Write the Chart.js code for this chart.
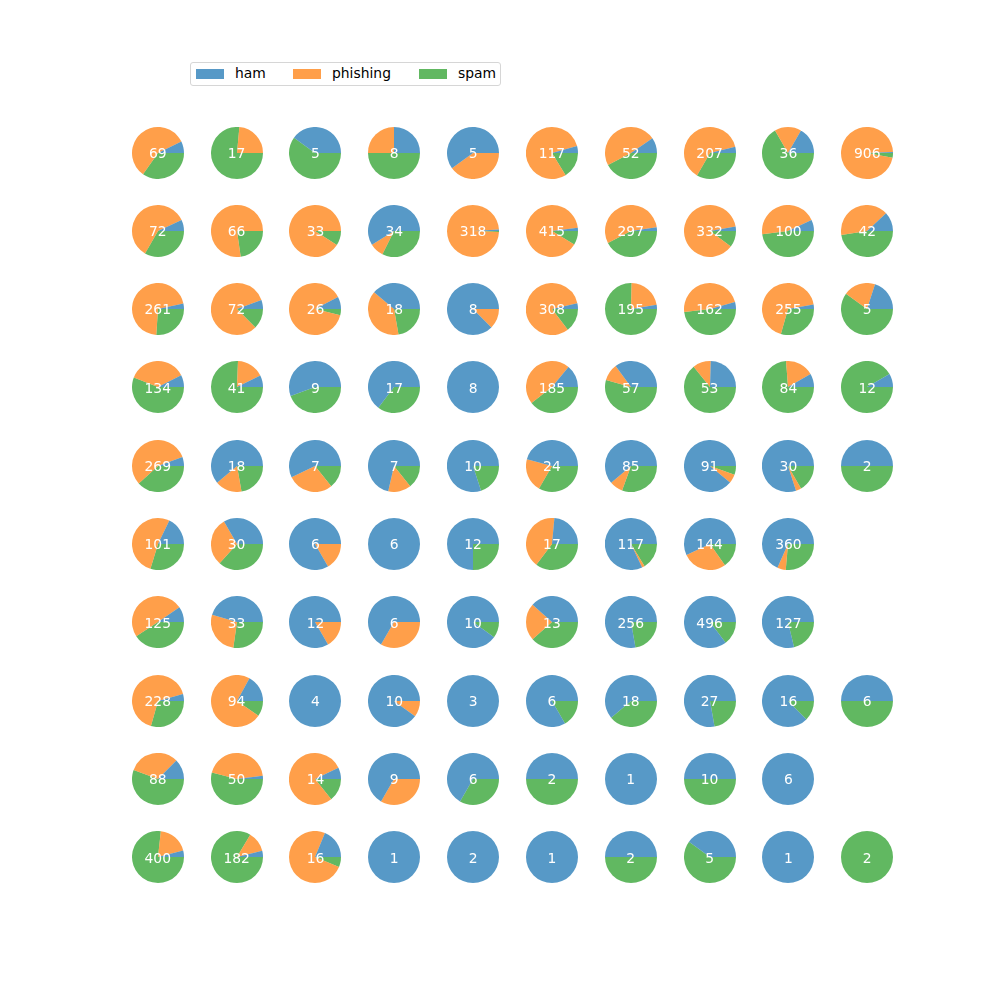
<!DOCTYPE html>
<html><head><meta charset="utf-8">
<script src="https://cdn.jsdelivr.net/npm/chart.js@4.4.1/dist/chart.umd.min.js"></script>
<style>
html,body{margin:0;padding:0;background:#fff;}
#root{position:relative;width:1000px;height:1000px;overflow:hidden;font-family:"DejaVu Sans",sans-serif;}
.pie{position:absolute;}
.lbl{position:absolute;width:80px;text-align:center;color:#fff;font-size:13.89px;line-height:16px;white-space:nowrap;pointer-events:none;}
#legend{position:absolute;left:190px;top:62px;width:309px;height:22px;border:1px solid #d6d6d6;border-radius:3px;background:#fff;}
.lpatch{position:absolute;top:6px;width:28px;height:10px;}
.ltext{position:absolute;top:2px;font-size:13.89px;line-height:16px;color:#000;white-space:nowrap;}
</style></head><body><div id="root"><div id="legend"></div></div>
<script>
const categories = ['ham', 'phishing', 'spam'];
const colors = ['rgba(31,119,180,0.75)', 'rgba(255,127,14,0.75)', 'rgba(44,160,44,0.75)'];
// 10 x 10 grid, row by row; null = empty cell
const hamCounts = [
  5,0,2,2,3,5,5,8,6,5,
  5,0,0,20,3,8,7,9,7,5,
  9,4,2,7,7,11,5,7,7,1,
  10,3,5,11,8,26,20,13,7,1,
  15,11,4,5,8,11,52,81,24,1,
  18,10,5,6,9,4,96,82,246,null,
  12,15,10,4,9,5,199,423,100,null,
  10,16,4,9,3,5,11,21,14,3,
  11,1,1,6,4,1,1,5,6,null,
  16,7,3,1,2,1,1,2,1,0
];
const phishingCounts = [
  40,4,0,2,2,93,25,130,6,874,
  43,51,30,3,313,371,164,289,45,17,
  184,59,23,7,1,252,43,77,173,1,
  49,7,0,0,0,86,6,6,15,0,
  151,3,2,1,0,5,7,5,1,0,
  53,9,1,0,0,7,2,40,19,null,
  62,9,2,2,0,3,0,0,0,null,
  151,69,0,1,0,0,0,0,0,0,
  28,22,11,3,0,0,0,0,0,null,
  77,23,12,0,0,0,0,0,0,0
];
const spamCounts = [
  24,13,3,4,0,19,22,69,24,27,
  24,15,3,11,2,36,126,34,48,20,
  68,9,1,4,0,45,147,78,75,3,
  75,31,4,6,0,73,31,34,62,11,
  103,4,1,1,2,8,26,5,5,1,
  30,11,0,0,3,6,19,22,95,null,
  51,9,0,0,1,5,57,73,27,null,
  67,9,0,0,0,1,7,6,2,3,
  49,27,2,0,2,1,0,5,0,null,
  307,152,1,0,0,0,1,3,0,2
];

const root = document.getElementById('root');
const NCOL = 10, R = 26;
for (let i = 0; i < hamCounts.length; i++) {
  if (hamCounts[i] === null) continue;
  const row = Math.floor(i / NCOL), col = i % NCOL;
  const cx = 157.8 + col * 78.83, cy = 152.5 + row * 78.33;
  const cv = document.createElement('canvas');
  cv.className = 'pie';
  cv.width = 2 * R; cv.height = 2 * R;
  cv.style.left = Math.round(cx - R) + 'px';
  cv.style.top = Math.round(cy - R) + 'px';
  cv.style.width = 2 * R + 'px'; cv.style.height = 2 * R + 'px';
  root.appendChild(cv);
  const vals = [hamCounts[i], phishingCounts[i], spamCounts[i]];
  // matplotlib draws counter-clockwise from 3 o'clock; Chart.js draws clockwise -> reverse order
  new Chart(cv, {
    type: 'pie',
    data: {
      labels: categories.slice().reverse(),
      datasets: [{
        data: vals.slice().reverse(),
        backgroundColor: colors.slice().reverse(),
        borderWidth: 0, hoverOffset: 0, offset: 0
      }]
    },
    options: {
      responsive: false, animation: false, rotation: 90, events: [],
      layout: { padding: 0 },
      plugins: { legend: { display: false }, tooltip: { enabled: false } }
    }
  });
  const lb = document.createElement('div');
  lb.className = 'lbl';
  lb.textContent = String(vals[0] + vals[1] + vals[2]);
  lb.style.left = (cx - 40) + 'px';
  lb.style.top = (cy - 7.8) + 'px';
  root.appendChild(lb);
}

// legend
const legend = document.getElementById('legend');
const patchX = [5, 102, 228], textX = [44, 141, 267];
categories.forEach((c, k) => {
  const p = document.createElement('div');
  p.className = 'lpatch'; p.style.left = patchX[k] + 'px'; p.style.background = colors[k];
  legend.appendChild(p);
  const t = document.createElement('div');
  t.className = 'ltext'; t.style.left = textX[k] + 'px'; t.textContent = c;
  legend.appendChild(t);
});
</script>
</body></html>
